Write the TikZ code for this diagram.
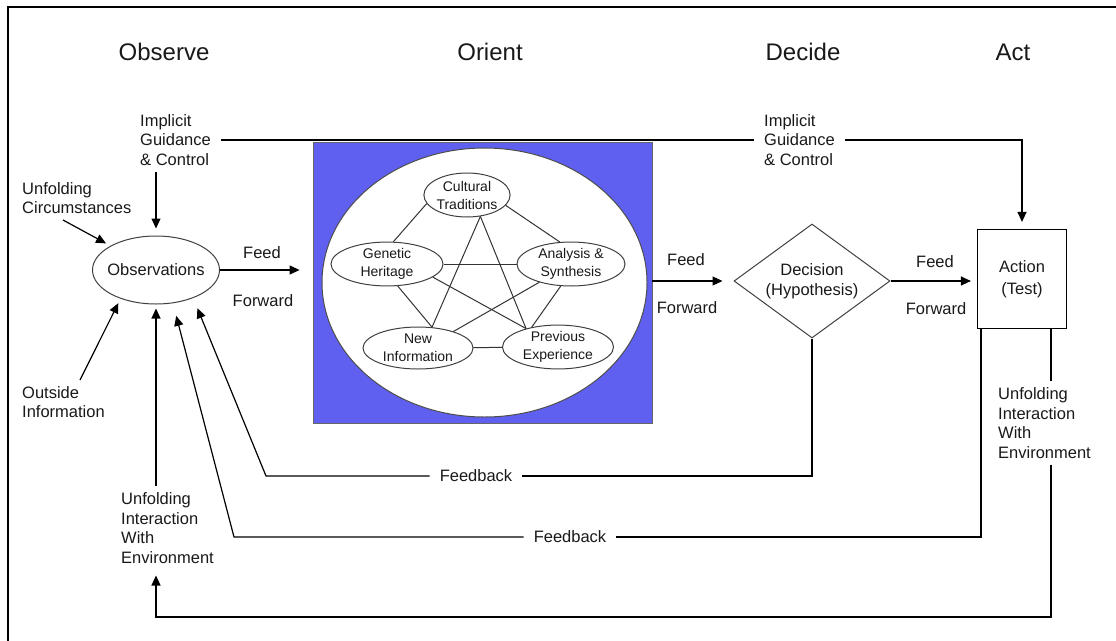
\documentclass[tikz,border=0pt]{standalone}
\usepackage{fontspec}
\setmainfont{Liberation Sans}
\usetikzlibrary{arrows.meta,shapes.geometric,positioning}

\definecolor{orientblue}{RGB}{96,96,240}
\definecolor{ink}{RGB}{25,25,25}

\tikzset{
  hdr/.style={font=\fontsize{24}{28}\selectfont, text=ink},
  lbl/.style={font=\fontsize{16.5}{19.5}\selectfont, align=left, text=ink, inner xsep=10pt, inner ysep=6pt},
  bubble/.style={ellipse, draw=black!75, line width=1pt, fill=white, text=ink, font=\fontsize{14}{18}\selectfont, align=center, inner sep=0pt},
  link/.style={line width=1pt, draw=black!80},
  wire/.style={line width=1.2pt},
  flow/.style={line width=1.2pt, -{Triangle[length=10pt,width=9pt]}},
}

\begin{document}
\begin{tikzpicture}[x=1pt,y=-1pt]
\useasboundingbox (0,0) rectangle (1116,640);
\draw[line width=1.2pt] (8,660) |- (1130,7);

\node[hdr] (hobs) at (164,52) {Observe};
\node[hdr] (hori) at (490,52) {Orient};
\node[hdr] (hdec) at (803,52) {Decide};
\node[hdr] (hact) at (1013,52) {Act};

\node[bubble, font=\fontsize{16.5}{20}\selectfont, minimum width=127pt, minimum height=68pt] (obs) at (156,270) {\makebox[70pt][c]{Observations}};

\node[rectangle, fill=orientblue, draw=black!60, line width=0.8pt, minimum width=339pt, minimum height=281pt] (orient) at (482.5,282.5) {};
\node[ellipse, fill=white, draw=black!70, line width=1pt, minimum width=325pt, minimum height=269pt] (orw) at (484.5,282.5) {};

\node[bubble, minimum width=86pt, minimum height=44pt] (ct) at (467,195) {Cultural\\Traditions};
\node[bubble, minimum width=112pt, minimum height=42pt] (gh) at (387,264) {Genetic\\Heritage};
\node[bubble, minimum width=108pt, minimum height=44pt] (as) at (571,264) {Analysis \&\\Synthesis};
\node[bubble, minimum width=110pt, minimum height=42pt] (nw) at (418,348) {New\\Information};
\node[bubble, minimum width=111pt, minimum height=43pt] (pe) at (558,347) {Previous\\Experience};

\draw[link] (ct.192) -- (gh.74);
\draw[link] (ct.-15) -- (as.117);
\draw[link] (ct.-58) -- (nw.56);
\draw[link] (ct.-58) -- (pe.150);
\draw[link] (gh) -- (as);
\draw[link] (gh.-64) -- (nw.56);
\draw[link] (gh.-16) -- (pe.150);
\draw[link] (as.210) -- (nw.25);
\draw[link] (as.-115) -- (pe.143);
\draw[link] (nw) -- (pe);

\node[diamond, draw=black!75, line width=1pt, aspect=1.37, minimum width=156pt, minimum height=114pt, inner sep=0pt, align=center, text=ink, font=\fontsize{16.5}{20}\selectfont] (dec) at (812,281) {Decision\\(Hypothesis)};
\node[rectangle, draw=black, line width=1.2pt, minimum width=89pt, minimum height=99pt, align=center, text=ink, font=\fontsize{16.5}{22}\selectfont] (act) at (1022,279) {Action\\(Test)};

\node[lbl] (feed1) at (262,253) {Feed};
\node[lbl] (fwd1) at (263,301) {Forward};
\node[lbl] (feed2) at (686,260) {Feed};
\node[lbl] (fwd2) at (687,308) {Forward};
\node[lbl] (feed3) at (935,262) {Feed};
\node[lbl] (fwd3) at (936,309) {Forward};

\draw[flow, shorten >=13pt] (obs.east) -- (obs.east -| orient.west);
\draw[flow, shorten >=11pt] (orient.east |- dec.west) -- (dec.west);
\draw[flow, shorten >=6pt] (dec.east) -- (dec.east -| act.west);

\node[lbl, anchor=west] (ig1) at (130,140) {Implicit\\Guidance\\\& Control};
\node[lbl, anchor=west] (ig2) at (754,140) {Implicit\\Guidance\\\& Control};
\draw[wire] (ig1.east) -- (ig2.west);
\draw[flow, shorten >=7pt] (ig2.east) -| (act.north);
\draw[flow, shorten >=7pt] (ig1.south -| obs.north) -- (obs.north);

\node[lbl, anchor=west] (uc) at (12,198) {Unfolding\\Circumstances};
\draw[flow, shorten >=5pt] ([xshift=51pt]uc.south west) -- (obs.152);

\node[lbl, anchor=west] (oi) at (12,402) {Outside\\Information};
\draw[flow, shorten >=5pt] ([xshift=68pt]oi.north west) -- (obs.219);

\node[lbl, anchor=west] (uie) at (111,528) {Unfolding\\Interaction\\With\\Environment};
\draw[flow, shorten >=4pt] (uie.north -| obs.south) -- (obs.south);

\node[lbl, anchor=west] (uie2) at (988,423) {Unfolding\\Interaction\\With\\Environment};
\coordinate (envR) at (1051,617);
\coordinate (envL) at (156,617);
\draw[wire] (act.south -| envR) -- (uie2.north -| envR);
\draw[flow, shorten >=6pt] (uie2.south -| envR) -- (envR) -- (envL) -- (uie.south -| envL);

\node[lbl] (fb1) at (476,476) {Feedback};
\node[lbl] (fb2) at (570,537) {Feedback};
\coordinate (fb1bend) at (266,476);
\coordinate (fb2bend) at (234,537);
\draw[wire] (dec.south) |- (fb1.east);
\draw[flow, shorten >=11pt] (fb1.west) -- (fb1bend) -- (obs.-37);
\draw[wire] ([xshift=4pt]act.south west) |- (fb2.east);
\draw[flow, shorten >=13pt] (fb2.west) -- (fb2bend) -- (obs.-63);
\end{tikzpicture}
\end{document}
